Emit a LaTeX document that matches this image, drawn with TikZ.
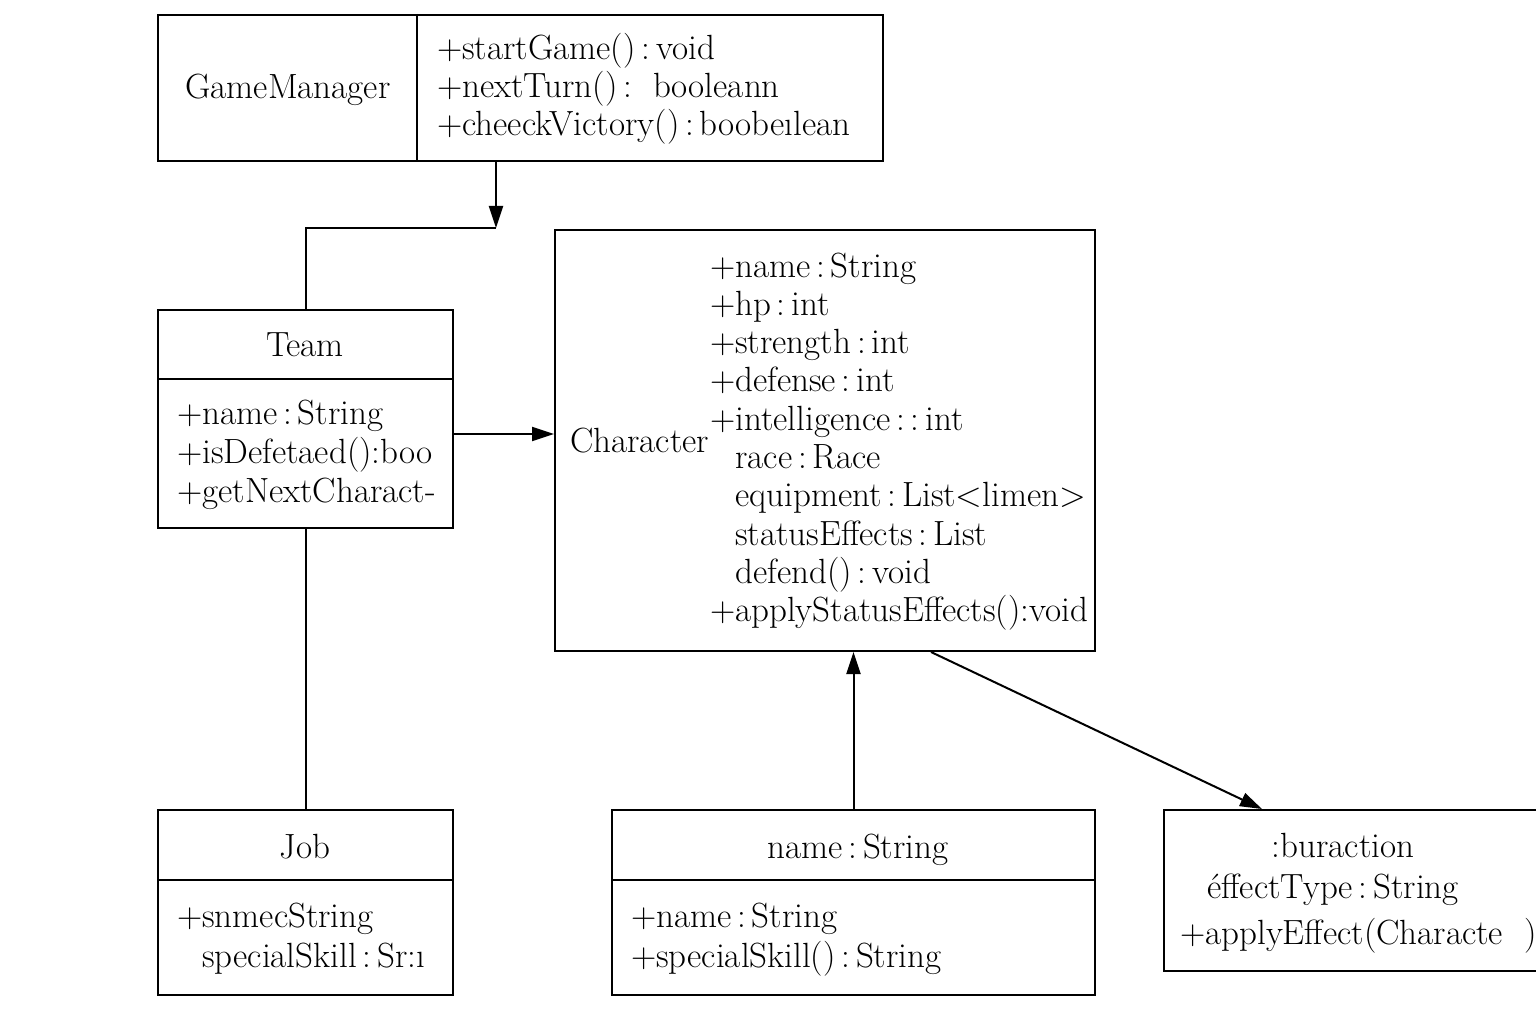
\documentclass[tikz,border=0pt]{standalone}
\usetikzlibrary{arrows.meta}
\newcommand\cln{\,:\,}
\begin{document}
\begin{tikzpicture}[x=1pt,y=-1pt,
  box/.style={draw, line width=2pt, inner sep=0pt, anchor=north west},
  ln/.style={line width=2pt},
  arr/.style={line width=2pt, -{Triangle[length=22pt,width=14pt]}},
  txt/.style={inner sep=0pt, anchor=base west, font=\fontsize{35}{40}\selectfont},
  ctxt/.style={inner sep=0pt, anchor=base, font=\fontsize{35}{40}\selectfont}]
\useasboundingbox[fill=white] (0,0) rectangle (1536,1024);

% GameManager
\node[box, minimum width=725pt, minimum height=146pt] (gm) at (157,14) {};
\draw[ln] ([xshift=260pt]gm.north west) -- ([xshift=260pt]gm.south west);
\node[ctxt] (gmname) at (288,99) {GameManager};
\node[txt] (gm1) at (437,60) {+startGame()\cln void};
\node[txt] (gm2) at (437,98) {+nextTurn()\,:\ \ booleann};
\node[txt] (gm3) at (437,136) {+cheeckVictory()\cln boobe{\i}lean};

% Team
\node[box, minimum width=295pt, minimum height=218pt] (team) at (157,309) {};
\draw[ln] ([yshift=-70pt]team.north west) -- ([yshift=-70pt]team.north east);
\node[ctxt] (teamname) at (305,356) {Team};
\node[txt] (t1) at (177,424) {+name\cln String};
\node[txt] (t2) at (177,463) {+isDefetaed():boo};
\node[txt] (t3) at (177,502) {+getNextCharact-};

% Character
\node[box, minimum width=540pt, minimum height=421pt] (char) at (554,229) {};
\node[txt] (charname) at (570,452) {Character};
\foreach \t [count=\i] in {+name\cln String, +hp\cln int, +strength\cln int, +defense\cln int,
  +intelligence\cln:\,int, \phantom{+}race\cln Race, \phantom{+}equipment\cln List<limen>,
  \phantom{+}statusEffects\cln List, \phantom{+}defend()\cln void, +applyStatusEffects():void}
  \node[txt] (c\i) at (710,{277+38.33*(\i-1)}) {\t};

% Job
\node[box, minimum width=295pt, minimum height=185pt] (job) at (157,809) {};
\draw[ln] ([yshift=-71pt]job.north west) -- ([yshift=-71pt]job.north east);
\node[ctxt] (jobname) at (305,858) {Job};
\node[txt] (j1) at (177,927) {+snmecString};
\node[txt] (j2) at (177,967) {\phantom{+}specialSkill\cln Sr:{\i}};

% Middle bottom class
\node[box, minimum width=483pt, minimum height=185pt] (mid) at (611,809) {};
\draw[ln] ([yshift=-71pt]mid.north west) -- ([yshift=-71pt]mid.north east);
\node[ctxt] (midname) at (858,858) {name\cln String};
\node[txt] (m1) at (631,927) {+name\cln String};
\node[txt] (m2) at (631,967) {+specialSkill()\cln String};

% Status effect class (cut at right edge)
\node[box, minimum width=390pt, minimum height=161pt] (eff) at (1163,809) {};
\node[ctxt] (effname) at (1343,857) {:buraction};
\node[txt] (e1) at (1207,898) {éffectType\cln String};
\node[txt] (e2) at (1180,944) {+applyEffect(Characte\ \ )};

% Connectors
\coordinate (c1) at (496,228);
\draw[arr] (c1 |- gm.south) -- (c1);
\draw[ln] (team.north) |- (c1);
\coordinate (c2) at (500,434);
\draw[arr] (team.east |- c2) -- (char.west |- c2);
\draw[ln] (team.south) -- (job.north);
\draw[arr] (mid.north) -- (char.south -| mid.north);
\draw[arr] ([xshift=106pt]char.south) -- ([xshift=99pt]eff.north west);
\end{tikzpicture}
\end{document}
